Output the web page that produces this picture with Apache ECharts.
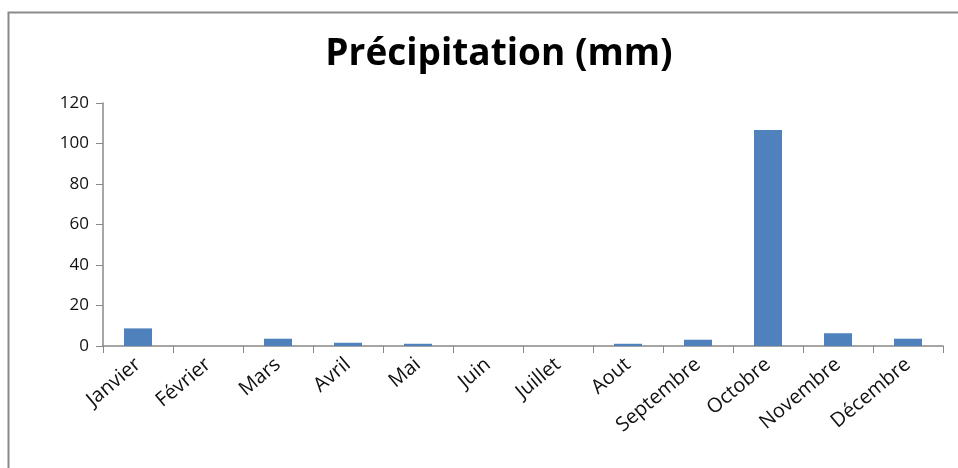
<!DOCTYPE html>
<html><head><meta charset="utf-8">
<script src="https://cdn.jsdelivr.net/npm/echarts@6/dist/echarts.min.js"></script>
<style>html,body{margin:0;padding:0;background:#fff}#c{width:958px;height:468px}</style>
</head><body><div id="c"></div>
<script>
const categories = ['Janvier','Février','Mars','Avril','Mai','Juin','Juillet','Aout','Septembre','Octobre','Novembre','Décembre'];
const precipitation = [8.7, 0, 3.6, 1.6, 1.1, 0, 0, 1.1, 3.1, 106.7, 6.3, 3.6];
const yTicks = [0, 20, 40, 60, 80, 100, 120];
const titleText = 'Précipitation (mm)';

const chart = echarts.init(document.getElementById('c'), null, {renderer:'canvas'});
chart.setOption({
  animation: false,
  backgroundColor: '#fff',
  graphic: [{
    type: 'polyline',
    shape: {points: [[8.5, 468], [8.5, 12.5], [958, 12.5]]},
    style: {stroke: '#8a8a8a', lineWidth: 2, fill: null}
  }],
  title: {
    text: titleText, left: 494, top: 31, textAlign: 'center',
    textStyle: {fontFamily: 'Open Sans', fontWeight: 'bold', fontSize: 37, color: '#000'}
  },
  grid: {left: 103, right: 15, top: 103, bottom: 122, containLabel: false},
  xAxis: {
    type: 'category', data: categories,
    axisLine: {lineStyle: {color: '#888', width: 1.5}},
    axisTick: {show: true, length: 7, alignWithLabel: false, lineStyle: {color: '#888'}},
    axisLabel: {rotate: 40, interval: 0, fontFamily: 'Open Sans', fontSize: 20, color: '#111', margin: 16}
  },
  yAxis: {
    type: 'value', min: yTicks[0], max: yTicks[yTicks.length-1], interval: 20,
    axisLine: {show: true, lineStyle: {color: '#888', width: 1.5}},
    axisTick: {show: true, length: 7, lineStyle: {color: '#888'}},
    splitLine: {show: false},
    axisLabel: {fontFamily: 'Open Sans', fontSize: 17, color: '#111', margin: 14}
  },
  series: [{
    type: 'bar', data: precipitation, barWidth: 28,
    itemStyle: {color: '#4f81bd'}
  }]
});
</script></body></html>
